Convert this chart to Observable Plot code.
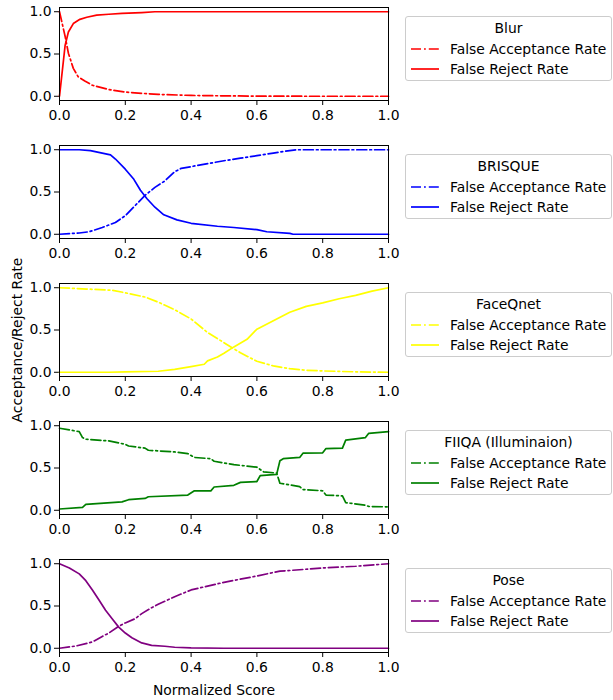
<!DOCTYPE html>
<html><head><meta charset="utf-8">
<script src="https://cdn.jsdelivr.net/npm/d3@7"></script>
<script src="https://cdn.jsdelivr.net/npm/@observablehq/plot@0.6"></script>
<style>
body{margin:0;background:#fff;font-family:"DejaVu Sans",sans-serif;}
#fig{position:relative;width:613px;height:700px;overflow:hidden;}
.panel{position:absolute;left:0;}
.legend{position:absolute;left:405px;width:205px;height:63px;border:1px solid #cccccc;border-radius:3px;font-size:13.9px;color:#000;background:#fff;}
.legend .t{position:absolute;left:0;width:100%;text-align:center;top:3px;line-height:16px;}
.legend .e{position:absolute;left:44px;line-height:16px;white-space:nowrap;}
.legend svg{position:absolute;left:4px;}
.xlab{position:absolute;left:114px;width:200px;text-align:center;top:682px;font-size:13.9px;}
.ylab{position:absolute;left:17px;top:340px;font-size:13.9px;white-space:nowrap;transform:translate(-50%,-50%) rotate(-90deg);}
</style>
</head><body>
<div id="fig"></div>
<script>
const methods = ["Blur","BRISQUE","FaceQnet","FIIQA (Illuminaion)","Pose"];
const colors = ["red","blue","yellow","green","purple"];
const seriesNames = ["False Acceptance Rate","False Reject Rate"];
const xTicks = [0,0.2,0.4,0.6,0.8,1.0];
const yTicks = [0,0.5,1.0];

// Blur
const blurFAR_x = [0,0.01,0.017,0.027,0.042,0.057,0.077,0.1,0.15,0.2,0.25,0.3,0.4,0.5,0.6,0.7,0.8,0.9,1.0];
const blurFAR_y = [1.0,0.83,0.71,0.51,0.33,0.23,0.18,0.13,0.08,0.05,0.035,0.022,0.01,0.005,0.002,0.001,0,0,0];
const blurFRR_x = [0,0.017,0.027,0.042,0.062,0.083,0.113,0.15,0.19,0.25,0.29,0.4,0.6,0.8,1.0];
const blurFRR_y = [0,0.6,0.76,0.86,0.91,0.935,0.96,0.97,0.98,0.99,1.0,1.0,1.0,1.0,1.0];
// BRISQUE
const brisqueFAR_x = [0,0.06,0.09,0.13,0.17,0.2,0.23,0.26,0.29,0.32,0.35,0.37,0.4,0.5,0.55,0.6,0.65,0.7,0.72,0.8,1.0];
const brisqueFAR_y = [0,0.015,0.03,0.08,0.14,0.22,0.34,0.46,0.555,0.63,0.74,0.78,0.8,0.87,0.9,0.93,0.96,0.99,1.0,1.0,1.0];
const brisqueFRR_x = [0,0.06,0.094,0.155,0.17,0.2,0.226,0.246,0.266,0.29,0.317,0.357,0.4,0.48,0.53,0.6,0.63,0.7,0.71,0.8,1.0];
const brisqueFRR_y = [1,1,0.99,0.94,0.89,0.77,0.65,0.52,0.42,0.32,0.23,0.17,0.13,0.095,0.08,0.055,0.03,0.01,0,0,0];
// FaceQnet
const faceqnetFAR_x = [0,0.16,0.2,0.26,0.3,0.35,0.4,0.45,0.5,0.55,0.6,0.65,0.7,0.75,0.8,0.9,1.0];
const faceqnetFAR_y = [1,0.97,0.94,0.89,0.83,0.74,0.63,0.47,0.35,0.23,0.13,0.075,0.043,0.024,0.016,0.005,0];
const faceqnetFRR_x = [0,0.15,0.2,0.3,0.35,0.4,0.44,0.45,0.48,0.5,0.53,0.57,0.6,0.65,0.7,0.75,0.8,0.85,0.9,0.95,1.0];
const faceqnetFRR_y = [0,0,0.005,0.012,0.035,0.067,0.095,0.135,0.18,0.225,0.3,0.39,0.51,0.61,0.71,0.78,0.82,0.87,0.91,0.96,1.0];
// FIIQA
const fiiqaFAR_x = [0,0.06,0.07,0.08,0.15,0.2,0.21,0.26,0.27,0.35,0.39,0.41,0.46,0.47,0.53,0.6,0.62,0.66,0.67,0.73,0.74,0.8,0.81,0.86,0.87,0.93,0.94,1.0];
const fiiqaFAR_y = [0.97,0.93,0.86,0.84,0.82,0.78,0.76,0.735,0.71,0.69,0.67,0.625,0.61,0.58,0.54,0.51,0.455,0.44,0.32,0.28,0.245,0.23,0.18,0.17,0.09,0.06,0.045,0.04];
const fiiqaFRR_x = [0,0.07,0.08,0.19,0.21,0.26,0.27,0.39,0.41,0.46,0.47,0.53,0.55,0.6,0.61,0.66,0.67,0.68,0.73,0.74,0.8,0.81,0.86,0.87,0.93,0.94,1.0];
const fiiqaFRR_y = [0.015,0.035,0.07,0.1,0.125,0.14,0.16,0.18,0.23,0.23,0.275,0.295,0.33,0.34,0.41,0.425,0.585,0.61,0.625,0.675,0.68,0.73,0.735,0.83,0.86,0.91,0.93];
// Pose
const poseFAR_x = [0,0.05,0.1,0.13,0.15,0.18,0.2,0.23,0.25,0.28,0.3,0.35,0.4,0.5,0.6,0.67,0.7,0.8,0.9,1.0];
const poseFAR_y = [0,0.027,0.075,0.14,0.18,0.26,0.30,0.35,0.41,0.48,0.52,0.61,0.69,0.78,0.855,0.913,0.92,0.95,0.97,1.0];
const poseFRR_x = [0,0.03,0.06,0.08,0.1,0.12,0.14,0.16,0.18,0.2,0.22,0.25,0.28,0.32,0.35,0.4,0.5,1.0];
const poseFRR_y = [1,0.95,0.88,0.8,0.69,0.57,0.45,0.35,0.25,0.18,0.125,0.063,0.035,0.024,0.012,0.004,0,0];

const farX = [blurFAR_x, brisqueFAR_x, faceqnetFAR_x, fiiqaFAR_x, poseFAR_x];
const farY = [blurFAR_y, brisqueFAR_y, faceqnetFAR_y, fiiqaFAR_y, poseFAR_y];
const frrX = [blurFRR_x, brisqueFRR_x, faceqnetFRR_x, fiiqaFRR_x, poseFRR_x];
const frrY = [blurFRR_y, brisqueFRR_y, faceqnetFRR_y, fiiqaFRR_y, poseFRR_y];

const DASH = "10,3,1.8,3";
const LW = 1.7;
const fig = document.getElementById("fig");
const zip = (xs, ys) => xs.map((x, i) => ({x, y: ys[i]}));

methods.forEach((m, i) => {
  const color = colors[i];
  const chart = Plot.plot({
    width: 400, height: 138,
    marginLeft: 59, marginRight: 12, marginTop: 7, marginBottom: 38,
    style: {fontFamily: "DejaVu Sans", fontSize: "13.9px", color: "black", background: "transparent", overflow: "visible"},
    x: {domain: [0, 1], ticks: xTicks, tickFormat: ".1f", tickSize: 5, tickPadding: 5, label: null},
    y: {domain: [-0.05, 1.05], ticks: yTicks, tickFormat: ".1f", tickSize: 5, tickPadding: 3, label: null},
    marks: [
      Plot.line(zip(farX[i], farY[i]), {x: "x", y: "y", stroke: color, strokeWidth: LW, strokeDasharray: DASH}),
      Plot.line(zip(frrX[i], frrY[i]), {x: "x", y: "y", stroke: color, strokeWidth: LW}),
      Plot.frame({stroke: "black", strokeWidth: 1})
    ]
  });
  chart.classList.add("panel");
  chart.style.top = (i * 138) + "px";
  fig.appendChild(chart);

  const lg = document.createElement("div");
  lg.className = "legend";
  lg.style.top = (16 + i * 138) + "px";
  const t = document.createElement("div");
  t.className = "t"; t.textContent = m;
  lg.appendChild(t);
  seriesNames.forEach((s, j) => {
    const cy = 32 + j * 20;
    const sw = document.createElementNS("http://www.w3.org/2000/svg", "svg");
    sw.setAttribute("width", 30); sw.setAttribute("height", 6);
    sw.style.top = (cy - 3) + "px";
    const ln = document.createElementNS("http://www.w3.org/2000/svg", "line");
    ln.setAttribute("x1", 1); ln.setAttribute("x2", 29);
    ln.setAttribute("y1", 3); ln.setAttribute("y2", 3);
    ln.setAttribute("stroke", color); ln.setAttribute("stroke-width", LW);
    if (j === 0) ln.setAttribute("stroke-dasharray", DASH);
    sw.appendChild(ln);
    lg.appendChild(sw);
    const e = document.createElement("div");
    e.className = "e"; e.textContent = s;
    e.style.top = (cy - 8) + "px";
    lg.appendChild(e);
  });
  fig.appendChild(lg);
});

const xl = document.createElement("div");
xl.className = "xlab"; xl.textContent = "Normalized Score";
fig.appendChild(xl);
const yl = document.createElement("div");
yl.className = "ylab"; yl.textContent = "Acceptance/Reject Rate";
fig.appendChild(yl);
</script>
</body></html>
